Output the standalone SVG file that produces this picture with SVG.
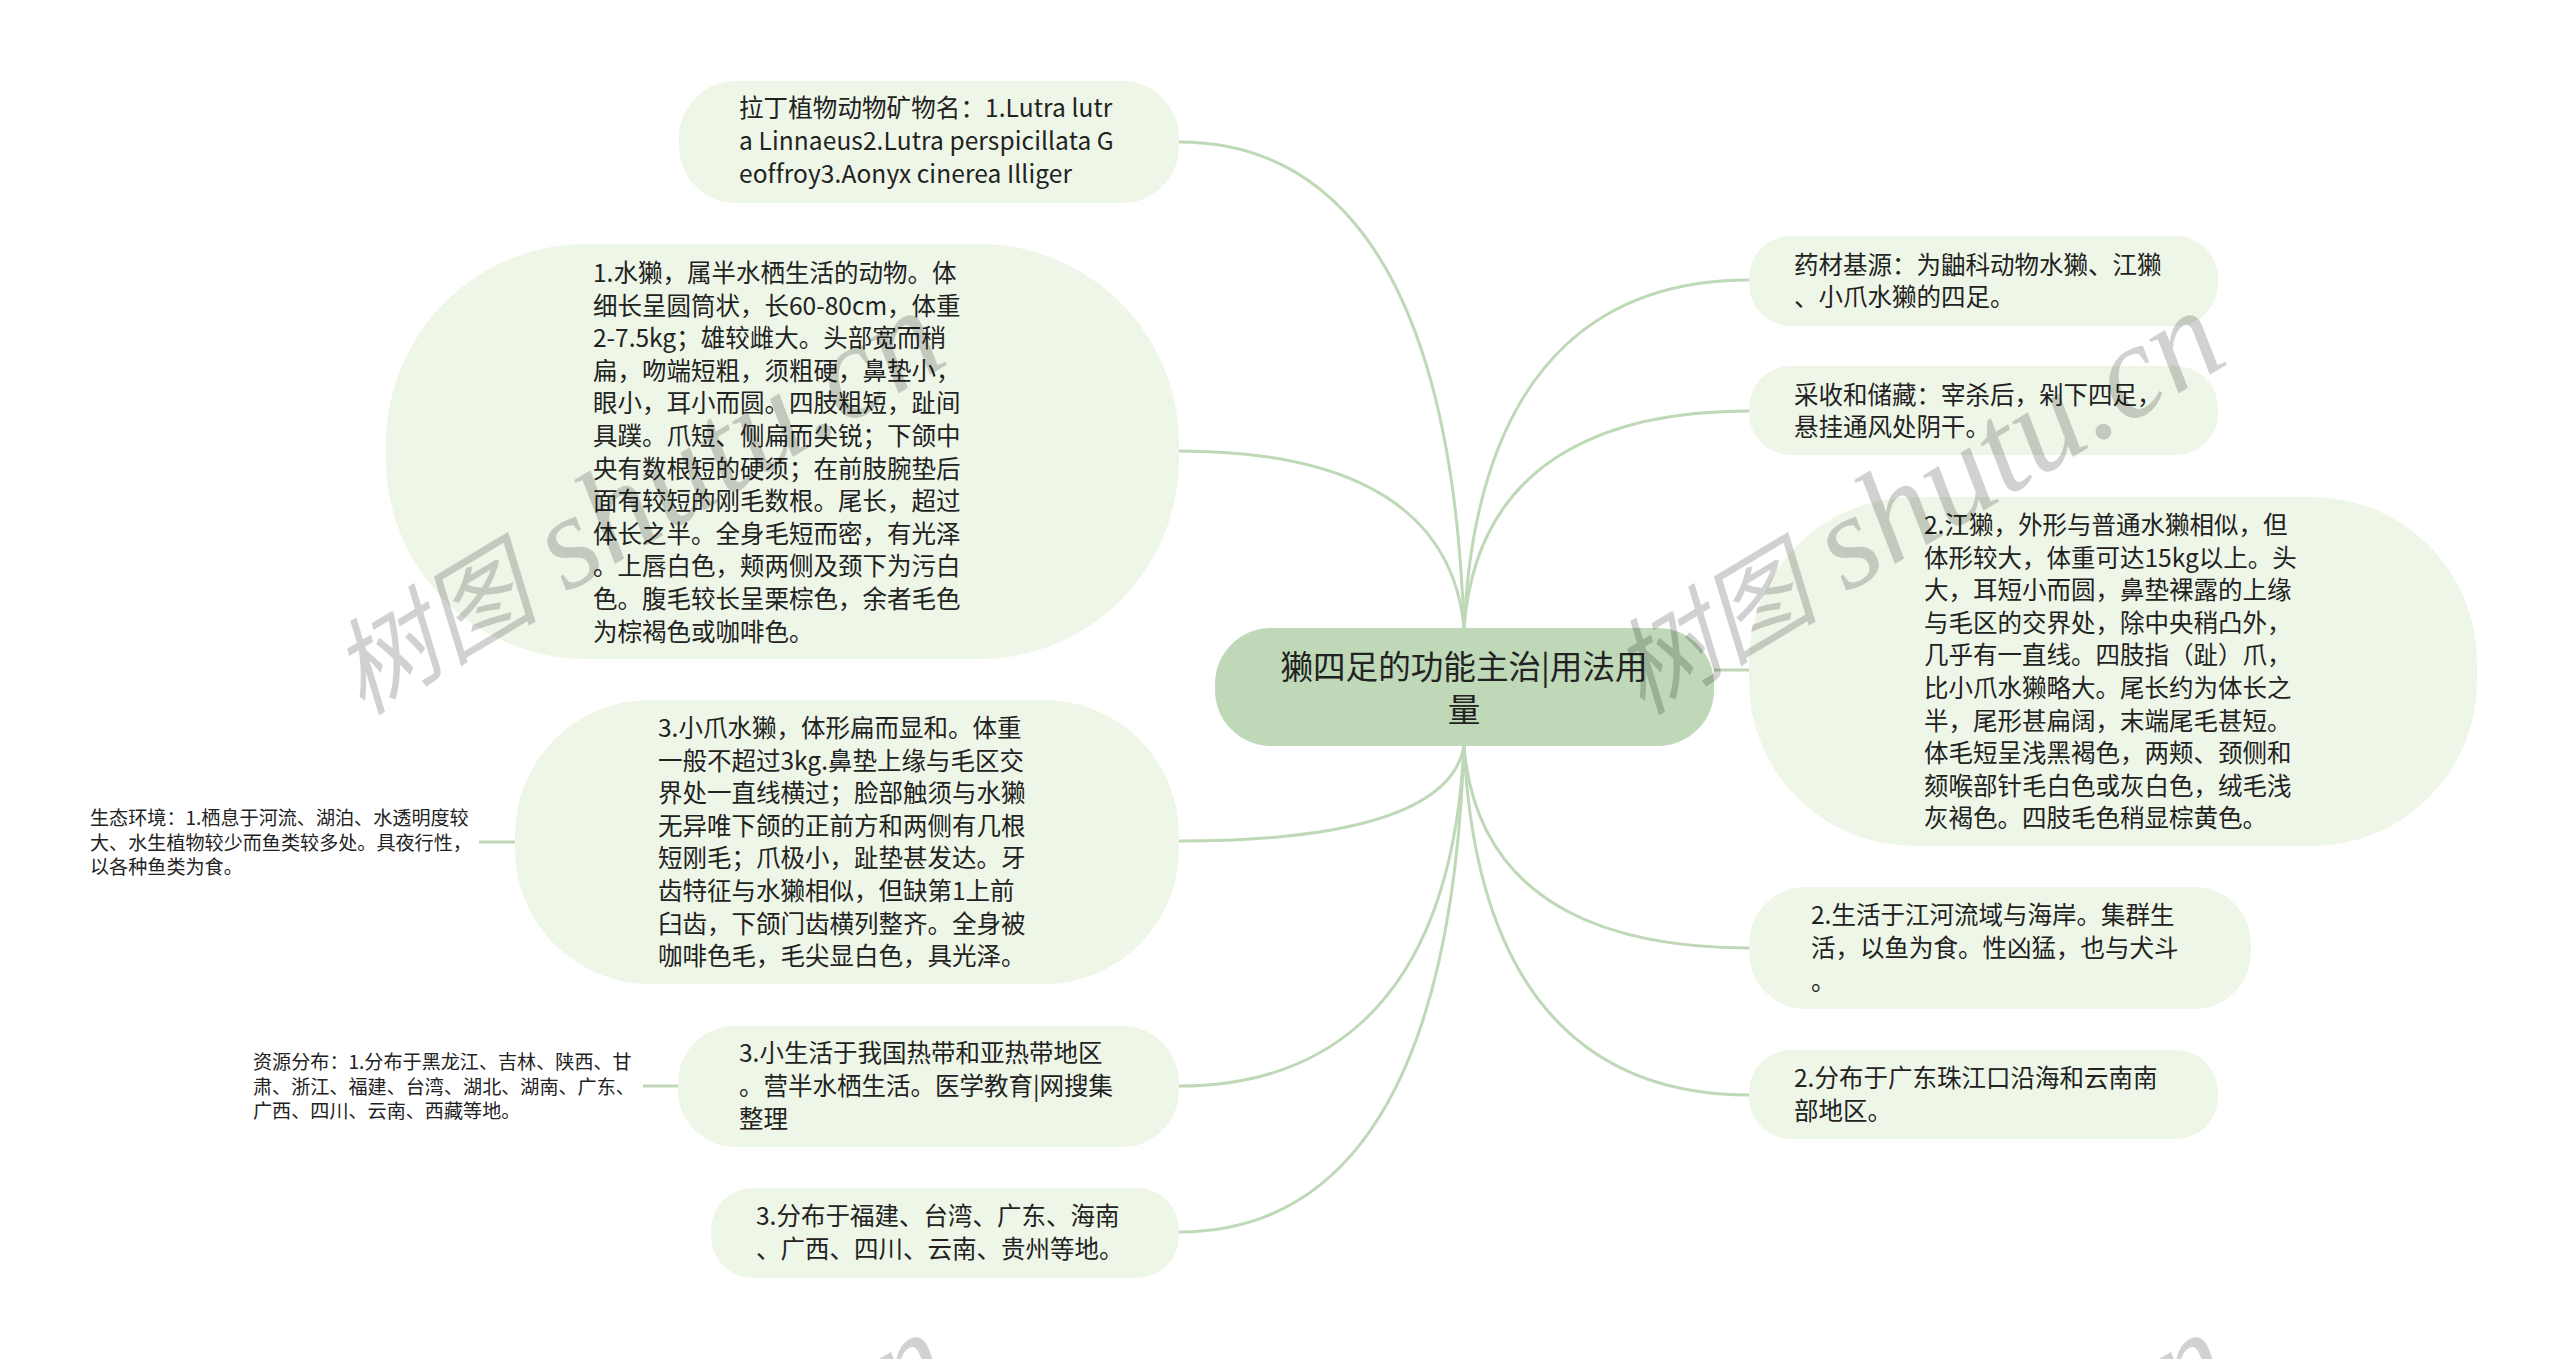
<svg xmlns="http://www.w3.org/2000/svg" width="2560" height="1359" viewBox="0 0 2560 1359">
<style>
text{font-family:"Noto Sans CJK SC","Noto Sans",sans-serif;fill:#222}
.n{fill:#eef6e7}
.r{fill:#bed8b8}
.t{font-size:24.5px}
.s{font-size:19.1px}
.c{fill:none;stroke:#bed8b8;stroke-width:3}
.w{font-family:"Liberation Serif","Noto Sans CJK SC",serif;font-style:italic;font-size:134px;fill:#000;fill-opacity:.18}
.wc{font-size:104px}
</style>
<defs>
<text id="wm" class="w"><tspan class="wc">树图</tspan><tspan dx="30">shutu.cn</tspan></text>
</defs>
<rect width="2560" height="1359" fill="#fff"/>
<g id="connectors" class="c">
<path class="c" d="M1464 628C1450 220 1300 142 1179 142"/>
<path class="c" d="M1464 628C1450 479 1300 451 1179 451"/>
<path class="c" d="M1464 746C1450 826 1300 841 1179 841"/>
<path class="c" d="M1464 746C1450 1030 1300 1086 1179 1086"/>
<path class="c" d="M1464 746C1450 1155 1300 1232 1179 1232"/>
<path class="c" d="M1464 628C1478 336 1628 280 1749 280"/>
<path class="c" d="M1464 628C1478 446 1628 411 1749 411"/>
<path class="c" d="M1714 670H1749"/>
<path class="c" d="M1464 746C1478 916 1628 948 1749 948"/>
<path class="c" d="M1464 746C1478 1039 1628 1095 1749 1095"/>
<path class="c" d="M479 842H515"/>
<path class="c" d="M643 1086H678"/>
</g>
<g id="root"><rect class="r" x="1215" y="628" width="499" height="118" rx="56"/>
<text font-size="32.6" text-anchor="middle"><tspan x="1464" y="679">獭四足的功能主治|用法用</tspan><tspan x="1464" y="722">量</tspan></text></g>
<g id="n1"><rect class="n" x="679" y="81" width="500" height="122" rx="57"/>
<text class="t" letter-spacing=".1"><tspan x="739" y="117">拉丁植物动物矿物名：1.Lutra lutr</tspan><tspan x="739" y="150">a Linnaeus2.Lutra perspicillata G</tspan><tspan x="739" y="183">eoffroy3.Aonyx cinerea Illiger</tspan></text></g>
<g id="n2"><rect class="n" x="386" y="244" width="793" height="415" rx="200"/>
<text class="t"><tspan x="593" y="282">1.水獭，属半水栖生活的动物。体</tspan><tspan x="593" y="314.6">细长呈圆筒状，长60-80cm，体重</tspan><tspan x="593" y="347.2">2-7.5kg；雄较雌大。头部宽而稍</tspan><tspan x="593" y="379.8">扁，吻端短粗，须粗硬，鼻垫小，</tspan><tspan x="593" y="412.4">眼小，耳小而圆。四肢粗短，趾间</tspan><tspan x="593" y="445">具蹼。爪短、侧扁而尖锐；下颌中</tspan><tspan x="593" y="477.6">央有数根短的硬须；在前肢腕垫后</tspan><tspan x="593" y="510.2">面有较短的刚毛数根。尾长，超过</tspan><tspan x="593" y="542.8">体长之半。全身毛短而密，有光泽</tspan><tspan x="593" y="575.4">。上唇白色，颊两侧及颈下为污白</tspan><tspan x="593" y="608">色。腹毛较长呈栗棕色，余者毛色</tspan><tspan x="593" y="640.6">为棕褐色或咖啡色。</tspan></text></g>
<g id="n3"><rect class="n" x="515" y="700" width="664" height="284" rx="135"/>
<text class="t"><tspan x="658" y="737">3.小爪水獭，体形扁而显和。体重</tspan><tspan x="658" y="769.6">一般不超过3kg.鼻垫上缘与毛区交</tspan><tspan x="658" y="802.2">界处一直线横过；脸部触须与水獭</tspan><tspan x="658" y="834.8">无异唯下颌的正前方和两侧有几根</tspan><tspan x="658" y="867.4">短刚毛；爪极小，趾垫甚发达。牙</tspan><tspan x="658" y="900">齿特征与水獭相似，但缺第1上前</tspan><tspan x="658" y="932.6">臼齿，下颌门齿横列整齐。全身被</tspan><tspan x="658" y="965.2">咖啡色毛，毛尖显白色，具光泽。</tspan></text></g>
<g id="leaf1"><text class="s"><tspan x="90" y="825">生态环境：1.栖息于河流、湖泊、水透明度较</tspan><tspan x="90" y="849.5">大、水生植物较少而鱼类较多处。具夜行性，</tspan><tspan x="90" y="874">以各种鱼类为食。</tspan></text></g>
<g id="n4"><rect class="n" x="678" y="1026" width="501" height="121" rx="57"/>
<text class="t"><tspan x="739" y="1062">3.小生活于我国热带和亚热带地区</tspan><tspan x="739" y="1095">。营半水栖生活。医学教育|网搜集</tspan><tspan x="739" y="1128">整理</tspan></text></g>
<g id="leaf2"><text class="s"><tspan x="253" y="1069">资源分布：1.分布于黑龙江、吉林、陕西、甘</tspan><tspan x="253" y="1093.5">肃、浙江、福建、台湾、湖北、湖南、广东、</tspan><tspan x="253" y="1118">广西、四川、云南、西藏等地。</tspan></text></g>
<g id="n5"><rect class="n" x="711" y="1188" width="468" height="90" rx="42"/>
<text class="t"><tspan x="756" y="1225">3.分布于福建、台湾、广东、海南</tspan><tspan x="756" y="1258">、广西、四川、云南、贵州等地。</tspan></text></g>
<g id="n6"><rect class="n" x="1749" y="236" width="469" height="90" rx="42"/>
<text class="t"><tspan x="1794" y="274">药材基源：为鼬科动物水獭、江獭</tspan><tspan x="1794" y="306">、小爪水獭的四足。</tspan></text></g>
<g id="n7"><rect class="n" x="1749" y="366" width="469" height="89" rx="42"/>
<text class="t"><tspan x="1794" y="404">采收和储藏：宰杀后，剁下四足，</tspan><tspan x="1794" y="436">悬挂通风处阴干。</tspan></text></g>
<g id="n8"><rect class="n" x="1749" y="497" width="728" height="349" rx="165"/>
<text class="t"><tspan x="1924" y="534">2.江獭，外形与普通水獭相似，但</tspan><tspan x="1924" y="566.6">体形较大，体重可达15kg以上。头</tspan><tspan x="1924" y="599.2">大，耳短小而圆，鼻垫裸露的上缘</tspan><tspan x="1924" y="631.8">与毛区的交界处，除中央稍凸外，</tspan><tspan x="1924" y="664.4">几乎有一直线。四肢指（趾）爪，</tspan><tspan x="1924" y="697">比小爪水獭略大。尾长约为体长之</tspan><tspan x="1924" y="729.6">半，尾形甚扁阔，末端尾毛甚短。</tspan><tspan x="1924" y="762.2">体毛短呈浅黑褐色，两颊、颈侧和</tspan><tspan x="1924" y="794.8">颏喉部针毛白色或灰白色，绒毛浅</tspan><tspan x="1924" y="827.4">灰褐色。四肢毛色稍显棕黄色。</tspan></text></g>
<g id="n9"><rect class="n" x="1749" y="887" width="502" height="122" rx="57"/>
<text class="t"><tspan x="1811" y="924">2.生活于江河流域与海岸。集群生</tspan><tspan x="1811" y="957">活，以鱼为食。性凶猛，也与犬斗</tspan><tspan x="1811" y="990">。</tspan></text></g>
<g id="n10"><rect class="n" x="1749" y="1050" width="469" height="89" rx="42"/>
<text class="t"><tspan x="1794" y="1087">2.分布于广东珠江口沿海和云南南</tspan><tspan x="1794" y="1120">部地区。</tspan></text></g>
<g id="watermark">
<use href="#wm" transform="translate(362,716) rotate(-31)"/>
<use href="#wm" transform="translate(1642,716) rotate(-31)"/>
<use href="#wm" transform="translate(368,1738) rotate(-31)"/>
<use href="#wm" transform="translate(1648,1738) rotate(-31)"/>
</g>
</svg>
